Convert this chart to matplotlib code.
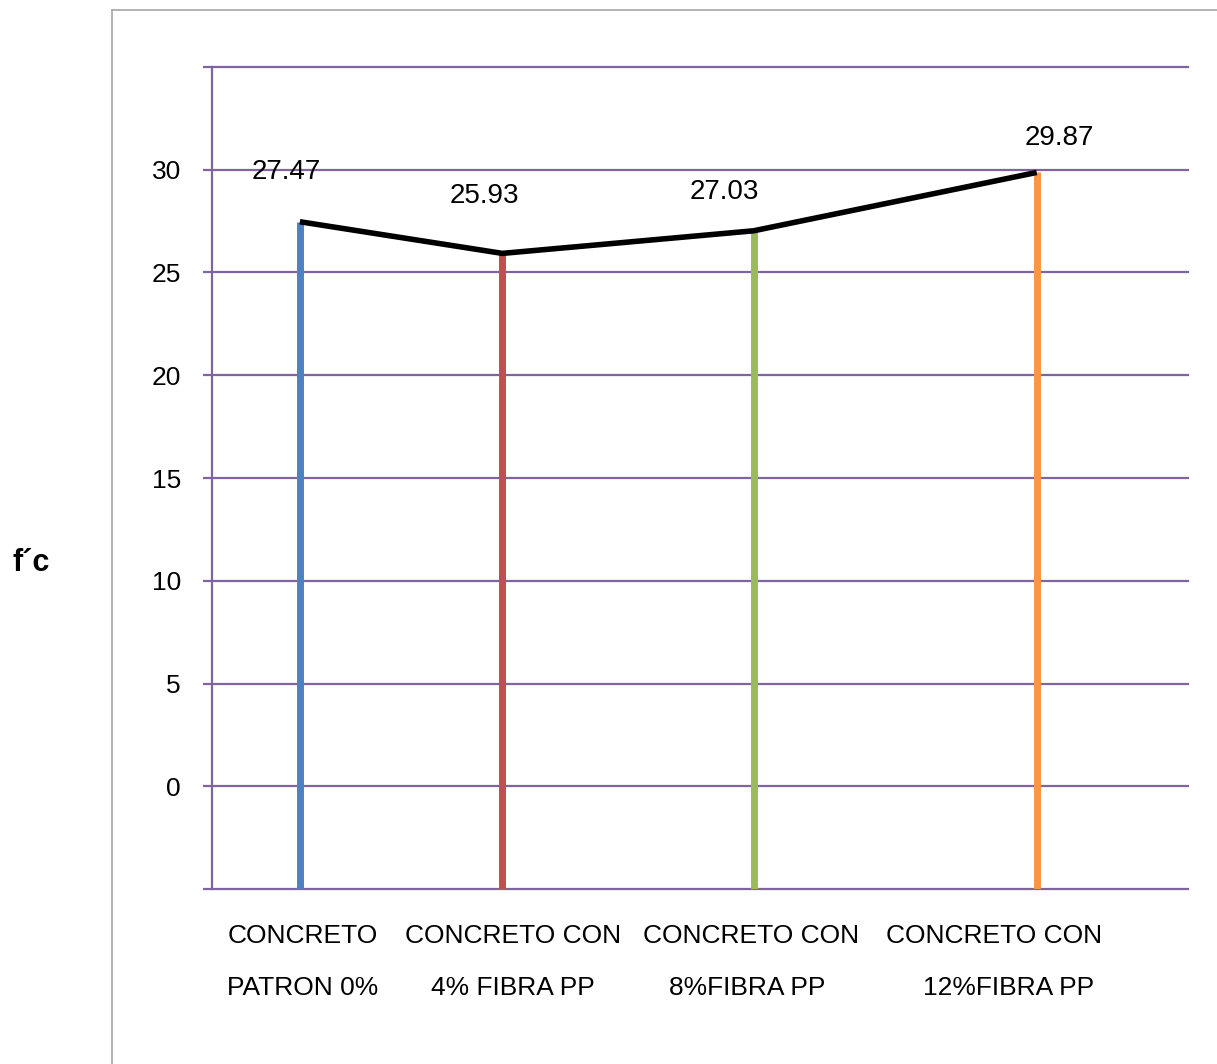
import matplotlib.pyplot as plt
from matplotlib.lines import Line2D

plt.rcParams['font.family'] = ['Liberation Sans', 'DejaVu Sans']

# resistencia a compresion f'c por mezcla
muestras = ["PATRON 0%", "4% FIBRA PP", "8%FIBRA PP", "12%FIBRA PP"]
fc = [27.47, 25.93, 27.03, 29.87]
etiquetas_l1 = ["CONCRETO", "CONCRETO CON", "CONCRETO CON", "CONCRETO CON"]
etiquetas_l2 = ["PATRON 0%", "4% FIBRA PP", "8%FIBRA PP", "12%FIBRA PP"]
ytick_vals = [-5, 0, 5, 10, 15, 20, 25, 30, 35]
ytick_txt = ["", "0", "5", "10", "15", "20", "25", "30", ""]

colores = ["#4F81BD", "#C0504D", "#9BBB59", "#F79646"]
xpos = [0.36, 1.19, 2.22, 3.38]
lbl_off = [(-10, 36), (-13, 41), (-21, 28), (16, 25)]
txt_x1 = [0.373, 1.234, 2.209, 3.205]
txt_x2 = [0.373, 1.234, 2.195, 3.266]
morado = "#8064A2"

fig = plt.figure(figsize=(12.17, 10.64), dpi=100)
ax = fig.add_axes([212 / 1217, 1 - 889 / 1064, (1188 - 212) / 1217, (889 - 67) / 1064])

# marco exterior
fig.add_artist(Line2D([112 / 1217, 112 / 1217], [0, 1 - 10 / 1064], color="#A6A6A6", lw=1.2,
                      transform=fig.transFigure))
fig.add_artist(Line2D([112 / 1217, 1], [1 - 10 / 1064, 1 - 10 / 1064], color="#A6A6A6", lw=1.2,
                      transform=fig.transFigure))

ax.set_xlim(0, 4)
ax.set_ylim(-5, 35)

for y in ytick_vals:
    ax.axhline(y, color=morado, lw=1.6, zorder=1, clip_on=False)

for x, v, c in zip(xpos, fc, colores):
    ax.plot([x, x], [-5, v], color=c, lw=5, solid_capstyle="butt", zorder=2)

ax.plot(xpos, fc, color="black", lw=4, zorder=3, solid_capstyle="butt")

for x, v, (dx, dy) in zip(xpos, fc, lbl_off):
    ax.annotate("%.2f" % v, (x, v), xytext=(dx, dy), textcoords="offset points",
                ha="center", va="center", fontsize=20)

ax.set_yticks(ytick_vals)
ax.set_yticklabels(ytick_txt, fontsize=19)
ax.tick_params(axis="y", length=6.5, width=1.6, color=morado, pad=16)
ax.set_xticks([])

for s in ["top", "right", "bottom"]:
    ax.spines[s].set_visible(False)
ax.spines["left"].set_color(morado)
ax.spines["left"].set_linewidth(1.6)

trans = ax.get_xaxis_transform()
for x1, x2, t1, t2 in zip(txt_x1, txt_x2, etiquetas_l1, etiquetas_l2):
    ax.text(x1, -47 / 822, t1, transform=trans, ha="center", va="center", fontsize=19)
    ax.text(x2, -99 / 822, t2, transform=trans, ha="center", va="center", fontsize=19)

fig.text(31 / 1217, 1 - 563 / 1064, "f´c", ha="center", va="center", fontsize=22, fontweight="bold")

fig.savefig("out.png", dpi=100)
